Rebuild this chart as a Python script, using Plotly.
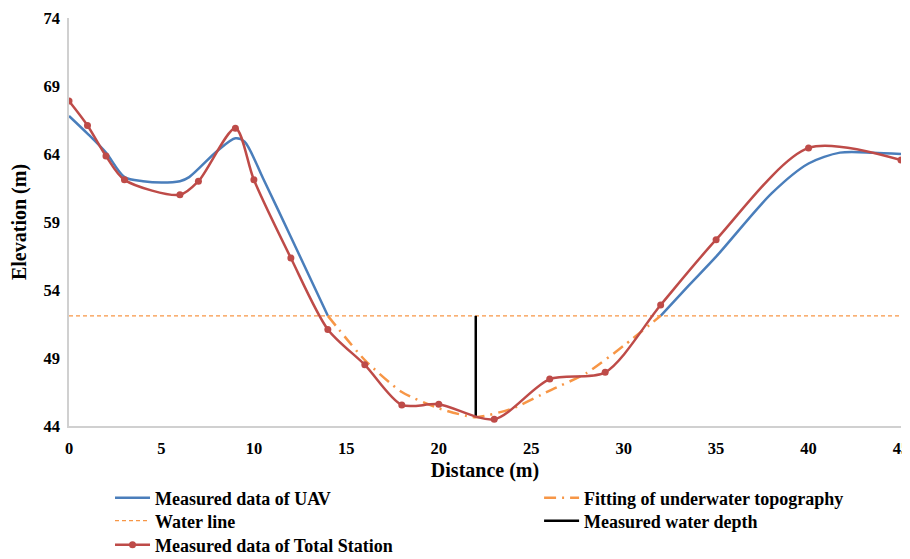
import plotly.graph_objects as go

# UAV measured data (above water only)
uav_left_x = [0, 1, 2, 3, 4, 5, 6, 6.5, 8, 9, 9.5, 10.5, 12, 14]
uav_left_y = [66.8, 65.5, 64.1, 62.3, 62.0, 61.9, 62.0, 62.3, 64.2, 65.15, 64.9, 62.2, 57.9, 52.1]
uav_right_x = [32, 33.5, 35, 38, 40, 41.7, 43.5, 45]
uav_right_y = [52.1, 54.3, 56.45, 61.1, 63.3, 64.1, 64.1, 64.0]

# Fitting of underwater topography
fit_x = [14, 16, 18, 20, 22, 24, 26, 28, 30, 32]
fit_y = [52.1, 48.85, 46.5, 45.3, 44.65, 45.3, 46.6, 47.9, 49.9, 52.1]

# Water line
water_x = [0, 45]
water_y = [52.1, 52.1]

# Measured water depth
depth_x = [22, 22]
depth_y = [52.1, 44.65]

# Total station
ts_x = [0, 1, 2, 3, 6, 7, 9, 10, 12, 14, 16, 18, 20, 23, 26, 29, 32, 35, 40, 45]
ts_y = [67.9, 66.1, 63.85, 62.1, 61.0, 62.0, 65.9, 62.1, 56.35, 51.1, 48.5, 45.55,
        45.6, 44.5, 47.45, 47.95, 52.9, 57.7, 64.45, 63.55]

x_ticks = [0, 5, 10, 15, 20, 25, 30, 35, 40, 45]
y_ticks = [44, 49, 54, 59, 64, 69, 74]

BLUE = "#4A7EBB"
ORANGE = "#F79646"
RED = "#BE4B48"

fig = go.Figure()
fig.add_trace(go.Scatter(x=uav_left_x + [None] + uav_right_x,
                         y=uav_left_y + [None] + uav_right_y,
                         mode="lines", name="Measured data of UAV", legend="legend",
                         line=dict(color=BLUE, width=2.5, shape="spline", smoothing=0.8),
                         connectgaps=False))
fig.add_trace(go.Scatter(x=fit_x, y=fit_y, mode="lines", name="Fitting of underwater topography",
                         legend="legend2",
                         line=dict(color=ORANGE, width=2.5, shape="spline", smoothing=0.6,
                                   dash="12px,6px,2px,6px")))
fig.add_trace(go.Scatter(x=water_x, y=water_y, mode="lines", name="Water line", legend="legend3",
                         line=dict(color=ORANGE, width=1.3, dash="4px,3px")))
fig.add_trace(go.Scatter(x=depth_x, y=depth_y, mode="lines", name="Measured water depth",
                         legend="legend4", line=dict(color="black", width=2.5)))
fig.add_trace(go.Scatter(x=ts_x, y=ts_y, mode="lines+markers", name="Measured data of Total Station",
                         legend="legend5",
                         line=dict(color=RED, width=2.5, shape="spline", smoothing=0.8),
                         marker=dict(color=RED, size=7)))

font_family = "Liberation Serif, Times New Roman, serif"
leg_font = dict(family=font_family, size=18, weight="bold", color="black")


def leg(x, y):
    return dict(orientation="v", x=x, xanchor="left", y=y, yanchor="middle",
                font=leg_font, itemwidth=35, bgcolor="rgba(0,0,0,0)", borderwidth=0)


col1, col2 = 0.0493, 0.565
row1, row2, row3 = -0.1765, -0.2328, -0.2917

# The page body adds an 8px offset; margins compensate so the plot area sits where it should.
fig.update_layout(
    width=910, height=559,
    margin=dict(l=61, r=17, t=10, b=141, autoexpand=False),
    plot_bgcolor="white", paper_bgcolor="white",
    font=dict(family=font_family, color="black", size=16, weight="bold"),
    showlegend=True,
    legend=leg(col1, row1),
    legend2=leg(col2, row1),
    legend3=leg(col1, row2),
    legend4=leg(col2, row2),
    legend5=leg(col1, row3),
    xaxis=dict(range=[0, 45], tickvals=x_ticks, showgrid=False, zeroline=False,
               showline=True, linecolor="#D0D0D0", linewidth=1.5, ticks="",
               ticklabelstandoff=6, ticklabeloverflow="allow",
               tickfont=dict(size=16.5, weight="bold"),
               title=dict(text="Distance (m)", font=dict(size=20, weight="bold"), standoff=6)),
    yaxis=dict(range=[44, 74], tickvals=y_ticks, showgrid=False, zeroline=False,
               showline=True, linecolor="#D0D0D0", linewidth=1.5, ticks="",
               ticklabelstandoff=4, ticklabeloverflow="allow",
               tickfont=dict(size=16.5, weight="bold"),
               title=dict(text="Elevation (m)", font=dict(size=20, weight="bold"), standoff=13)),
)

fig.write_html("out.html")
